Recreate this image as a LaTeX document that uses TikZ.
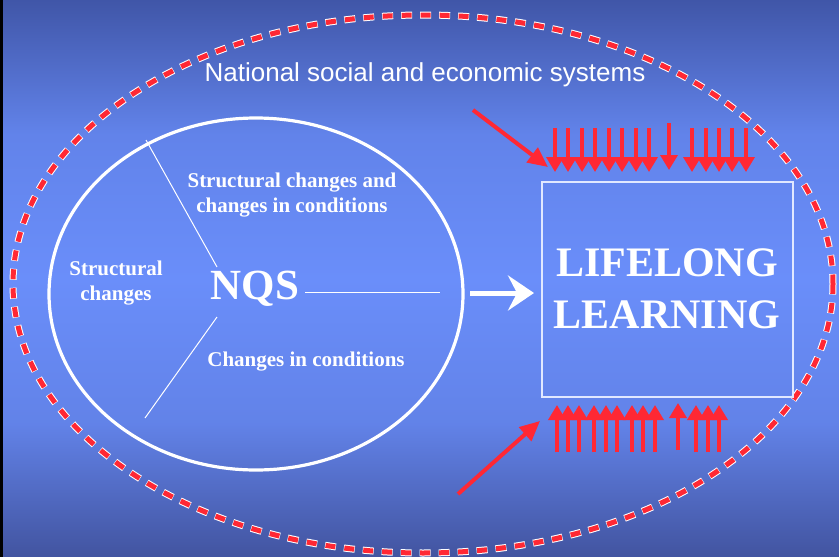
\documentclass[tikz,border=0pt]{standalone}
\usepackage{fontspec}
\setmainfont{Liberation Serif}
\newfontfamily\arialfont{Liberation Sans}
\usetikzlibrary{positioning,arrows.meta}
\definecolor{bg-top}{RGB}{64,86,168}
\definecolor{bg-mid}{RGB}{106,142,250}
\definecolor{bg-bottom}{RGB}{66,84,160}
\definecolor{ll-red}{RGB}{255,40,52}
\definecolor{box-line}{RGB}{225,232,255}
\pgfdeclareverticalshading{bgshade}{100bp}{color(0bp)=(bg-bottom); color(25bp)=(bg-bottom);
  color(37bp)=(bg-mid!80!bg-bottom); color(50bp)=(bg-mid); color(63bp)=(bg-mid!80!bg-top);
  color(75bp)=(bg-top); color(100bp)=(bg-top)}

\begin{document}
\begin{tikzpicture}[x=1pt,y=-1pt,
    redarrow/.style={ll-red, line width=3.5, -{Triangle[length=15pt,width=17pt]}},
    slantarrow/.style={ll-red, line width=4, -{Triangle[length=20pt,width=18pt]}},
    nqslabel/.style={text=white, font=\bfseries\fontsize{21}{25}\selectfont, align=center, inner sep=0},
    boldbig/.style={text=white, font=\bfseries\fontsize{42}{52}\selectfont, align=center, inner sep=0}]
    % background
    \useasboundingbox (0,0) rectangle (839,557);
    \shade[shading=bgshade] (0,0) rectangle (839,557);
    \fill[black] (0,0) rectangle (3,557);
    % national systems
    \coordinate (sys) at (423,284);
    \draw[white, line width=7, dash pattern=on 11pt off 8pt, dash phase=0.5pt] (sys) ellipse [x radius=410, y radius=269];
    \draw[ll-red, line width=5, dash pattern=on 10pt off 9pt] (sys) ellipse [x radius=410, y radius=269];
    \node[text=white, font=\arialfont\fontsize{26}{30}\selectfont, inner sep=0] (sys-title) at (425,75) {National social and economic systems};
    % NQS
    \coordinate (nqs-c) at (256,294);
    \draw[white, line width=3.2] (nqs-c) ellipse [x radius=207, y radius=176];
    \node[boldbig, font=\bfseries\fontsize{43}{50}\selectfont] (nqs) at (255,289) {NQS};
    \coordinate (up-a) at (217,267);
    \coordinate (up-b) at (146,140);
    \coordinate (lo-a) at (217,317);
    \coordinate (lo-b) at (145,418);
    \coordinate (mid-a) at (305,292);
    \coordinate [right=135 of mid-a] (mid-b);
    \draw[white, line width=1] (up-a) -- (up-b);
    \draw[white, line width=1] (lo-a) -- (lo-b);
    \draw[white, line width=1] (mid-a) -- (mid-b);
    \node[nqslabel] (both) at (292,195) {Structural changes and\\changes in conditions};
    \node[nqslabel] (cond) at (306,362) {Changes in conditions};
    \node[nqslabel] (struct) at (116,283) {Structural\\changes};
    % lifelong learning
    \node[draw=box-line, line width=1.2, minimum width=251pt, minimum height=215pt, inner sep=0] (ll-box) at (667.5,289.5) {};
    \node[boldbig] (ll) at (667,289) {LIFELONG\\LEARNING};
    \coordinate (to-s) at (470,293);
    \coordinate (to-e) at (534,293);
    \draw[white, line width=5, -{Stealth[length=26pt,width=35pt,inset=9pt]}] (to-s) -- (to-e);
    % pressure from above
    \coordinate (dn-s) at (473,110);
    \coordinate (dn-e) at (548,167);
    \draw[slantarrow] (dn-s) -- (dn-e);
    \foreach \x in {555,568,582,595,609,622,636,649,692,706,719,732,746}{
        \coordinate (dn-t\x) at (\x,128);
        \coordinate (dn-h\x) at (\x,172);
        \draw[redarrow] (dn-t\x) -- (dn-h\x);
    }
    \coordinate (dn-t669) at (669,123);
    \coordinate (dn-h669) at (669,170);
    \draw[redarrow] (dn-t669) -- (dn-h669);
    % pressure from below
    \coordinate (up-s) at (458,494);
    \coordinate (up-e) at (540,421);
    \draw[slantarrow] (up-s) -- (up-e);
    \foreach \x in {557,568,579,594,606,617,632,643,655,696,708,719}{
        \coordinate (up-t\x) at (\x,452);
        \coordinate (up-h\x) at (\x,405);
        \draw[redarrow] (up-t\x) -- (up-h\x);
    }
    \coordinate (up-t678) at (678,450);
    \coordinate (up-h678) at (678,403);
    \draw[redarrow] (up-t678) -- (up-h678);
\end{tikzpicture}
\end{document}
